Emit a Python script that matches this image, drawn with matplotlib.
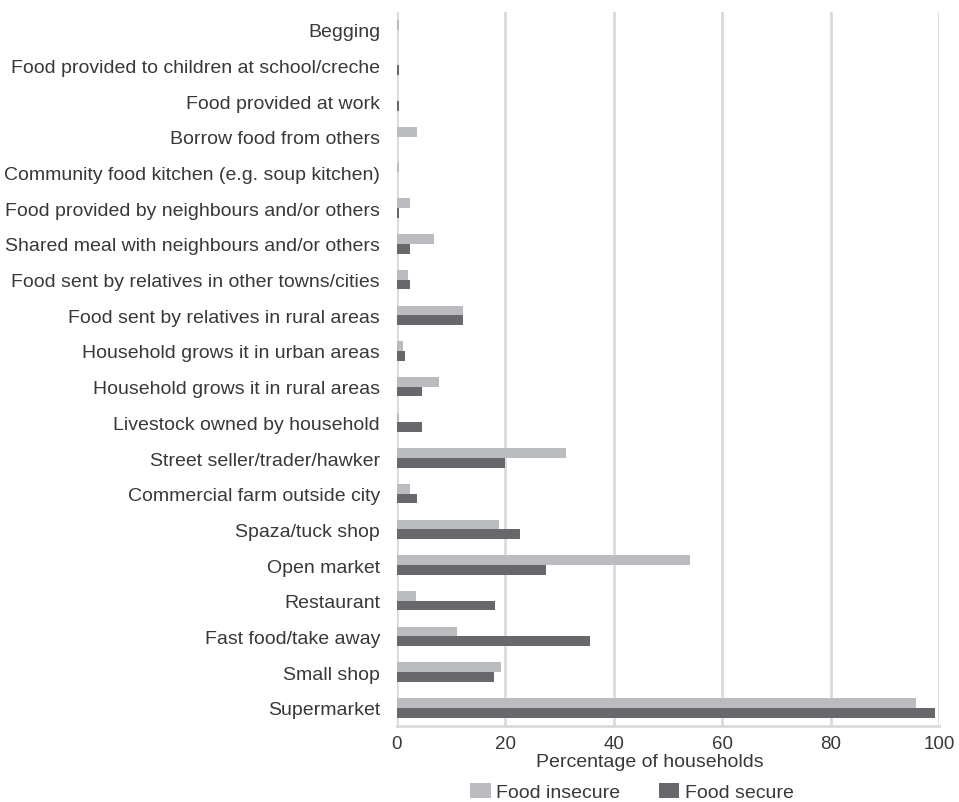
import numpy as np
import matplotlib.pyplot as plt

# categories listed bottom to top
sources = [
    "Supermarket",
    "Small shop",
    "Fast food/take away",
    "Restaurant",
    "Open market",
    "Spaza/tuck shop",
    "Commercial farm outside city",
    "Street seller/trader/hawker",
    "Livestock owned by household",
    "Household grows it in rural areas",
    "Household grows it in urban areas",
    "Food sent by relatives in rural areas",
    "Food sent by relatives in other towns/cities",
    "Shared meal with neighbours and/or others",
    "Food provided by neighbours and/or others",
    "Community food kitchen (e.g. soup kitchen)",
    "Borrow food from others",
    "Food provided at work",
    "Food provided to children at school/creche",
    "Begging",
]

food_insecure = [95.8, 19.2, 11.2, 3.6, 54.1, 18.9, 2.4, 31.2, 0.5, 7.8,
                 1.1, 12.2, 2.1, 6.9, 2.4, 0.5, 3.7, 0.0, 0.0, 0.5]
food_secure = [99.3, 17.9, 35.6, 18.2, 27.5, 22.7, 3.7, 20.0, 4.7, 4.7,
               1.5, 12.2, 2.4, 2.4, 0.5, 0.0, 0.0, 0.5, 0.5, 0.0]

series_names = ["Food insecure", "Food secure"]
xticks = [0, 20, 40, 60, 80, 100]

LIGHT = "#bbbcbf"
DARK = "#68686c"
GRID = "#dadada"
TEXT = "#383838"

plt.rcParams["font.family"] = ["Liberation Sans", "DejaVu Sans"]


def main():
    fig = plt.figure(figsize=(9.59, 8.03), dpi=100)
    ax = fig.add_axes([0.4137, 0.095, 0.5657, 0.889])

    y = np.arange(len(sources))
    h = 0.272
    ax.barh(y + h / 2, food_insecure, height=h, color=LIGHT, label=series_names[0], zorder=3)
    ax.barh(y - h / 2, food_secure, height=h, color=DARK, label=series_names[1], zorder=3)

    ax.set_xlim(0, 100)
    ax.set_ylim(-0.5, len(sources) - 0.5)
    ax.set_xticks(xticks)
    ax.set_yticks(y)
    ax.set_yticklabels(sources)
    ax.tick_params(axis="both", length=0, colors=TEXT)
    ax.tick_params(axis="y", pad=12, labelsize=14)
    ax.tick_params(axis="x", pad=7, labelsize=13.5)

    for v in xticks:
        ax.axvline(v, color=GRID, lw=2, zorder=1)
    for side in ["top", "right", "left"]:
        ax.spines[side].set_visible(False)
    ax.spines["bottom"].set_color(GRID)
    ax.spines["bottom"].set_linewidth(2)

    fig.text(0.678, 0.051, "Percentage of households", ha="center", va="center",
             fontsize=14, color=TEXT)

    fig.legend(loc="center", bbox_to_anchor=(0.659, 0.0125), ncol=2, frameon=False,
               fontsize=14, handlelength=1.05, handleheight=0.85, handletextpad=0.28,
               columnspacing=2.0, labelcolor=TEXT, borderpad=0)

    fig.savefig("out.png", dpi=100)


if __name__ == "__main__":
    main()
